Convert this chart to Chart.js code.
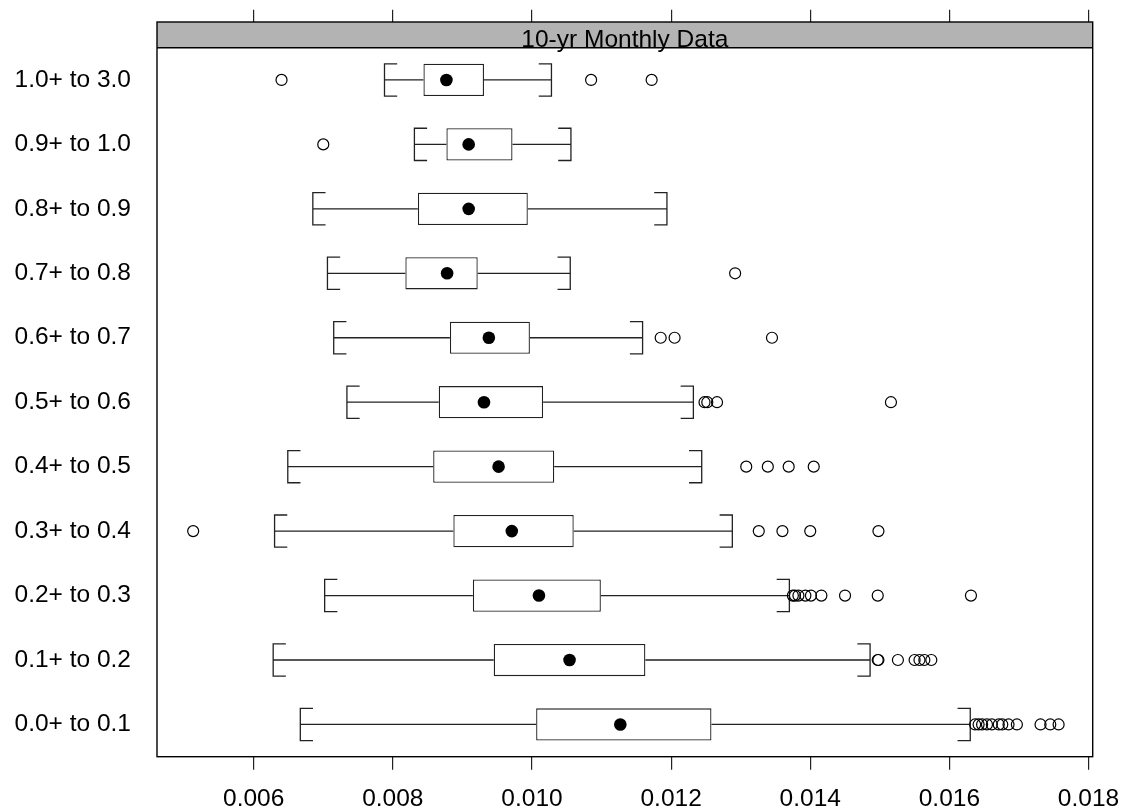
<!DOCTYPE html>
<html>
<head>
<meta charset="utf-8">
<script src="https://cdn.jsdelivr.net/npm/chart.js@4"></script>
<style>
  body { margin: 0; background: #fff; }
  #wrap { width: 1122px; height: 810px; }
</style>
</head>
<body>
<div id="wrap"><canvas id="bwChart"></canvas></div>
<script>
// categories, top row first
const categories = ['1.0+ to 3.0', '0.9+ to 1.0', '0.8+ to 0.9', '0.7+ to 0.8', '0.6+ to 0.7',
    '0.5+ to 0.6', '0.4+ to 0.5', '0.3+ to 0.4', '0.2+ to 0.3', '0.1+ to 0.2', '0.0+ to 0.1'];

const whiskerLow  = [0.00788, 0.00831, 0.00685, 0.00706, 0.00715, 0.00734, 0.00649, 0.00630, 0.00702, 0.00628, 0.00667];
const q1          = [0.00844, 0.00877, 0.00836, 0.00818, 0.00882, 0.00866, 0.00858, 0.00887, 0.00915, 0.00945, 0.01006];
const median      = [0.00877, 0.00909, 0.00909, 0.00878, 0.00938, 0.00931, 0.00952, 0.00971, 0.01010, 0.01054, 0.01127];
const q3          = [0.00931, 0.00972, 0.00994, 0.00922, 0.00997, 0.01016, 0.01032, 0.01060, 0.01099, 0.01163, 0.01258];
const whiskerHigh = [0.01028, 0.01056, 0.01194, 0.01055, 0.01159, 0.01232, 0.01244, 0.01288, 0.01370, 0.01486, 0.01630];

const outliers = [
    [0.00640, 0.01085, 0.01172],
    [0.00700],
    [],
    [0.01292],
    [0.01185, 0.01205, 0.01345],
    [0.01248, 0.01252, 0.01266, 0.01516],
    [0.01308, 0.01339, 0.01369, 0.01405],
    [0.00513, 0.01326, 0.01360, 0.01400, 0.01498],
    [0.01375, 0.01378, 0.01383, 0.01393, 0.01401, 0.01416, 0.01450, 0.01497, 0.01631],
    [0.01497, 0.01498, 0.01526, 0.01550, 0.01557, 0.01564, 0.01574],
    [0.01637, 0.01642, 0.01647, 0.01654, 0.01661, 0.01671, 0.01676, 0.01685, 0.01697, 0.01731, 0.01745, 0.01757]
];

const xTicks = [0.006, 0.008, 0.010, 0.012, 0.014, 0.016, 0.018];
const xMin = 0.00461;
const xMax = 0.01806;
const stripTitle = '10-yr Monthly Data';

const fontFamily = '"Liberation Sans", Arial, Helvetica, sans-serif';
const ink = '#222';

const outlierPoints = [];
outliers.forEach((row, i) => row.forEach(v => outlierPoints.push({x: v, y: categories[i]})));

const setTicks = scale => { scale.ticks = xTicks.map(v => ({value: v})); };

// whiskers with bracket caps, strip and panel frame
const lattice = {
    id: 'lattice',
    beforeDatasetsDraw(chart) {
        const {ctx, scales: {x, y}} = chart;
        const band = Math.abs(y.getPixelForValue(1) - y.getPixelForValue(0));
        const half = band * 0.25;
        const cap = 12.7;
        ctx.save();
        ctx.strokeStyle = ink;
        ctx.lineWidth = 1.3;
        categories.forEach((c, i) => {
            const yc = y.getPixelForValue(i);
            const lo = x.getPixelForValue(whiskerLow[i]);
            const hi = x.getPixelForValue(whiskerHigh[i]);
            const b1 = x.getPixelForValue(q1[i]);
            const b3 = x.getPixelForValue(q3[i]);
            ctx.beginPath();
            ctx.moveTo(lo, yc); ctx.lineTo(b1, yc);
            ctx.moveTo(b3, yc); ctx.lineTo(hi, yc);
            ctx.moveTo(lo + cap, yc - half); ctx.lineTo(lo, yc - half);
            ctx.lineTo(lo, yc + half); ctx.lineTo(lo + cap, yc + half);
            ctx.moveTo(hi - cap, yc - half); ctx.lineTo(hi, yc - half);
            ctx.lineTo(hi, yc + half); ctx.lineTo(hi - cap, yc + half);
            ctx.stroke();
        });
        ctx.restore();
    },
    afterDraw(chart) {
        const {ctx, chartArea: a} = chart;
        const stripTop = a.top - 25.7;
        ctx.save();
        ctx.fillStyle = '#b3b3b3';
        ctx.fillRect(a.left, stripTop, a.right - a.left, a.top - stripTop);
        ctx.fillStyle = '#000';
        ctx.font = '24.5px ' + fontFamily;
        ctx.textAlign = 'center';
        ctx.textBaseline = 'alphabetic';
        ctx.fillText(stripTitle, (a.left + a.right) / 2, a.top - 0.5);
        ctx.strokeStyle = '#000';
        ctx.lineWidth = 1.4;
        ctx.strokeRect(a.left, stripTop, a.right - a.left, a.bottom - stripTop);
        ctx.beginPath();
        ctx.moveTo(a.left, a.top);
        ctx.lineTo(a.right, a.top);
        ctx.stroke();
        ctx.restore();
    }
};

const noSidePad = scale => { scale.paddingLeft = 0; scale.paddingRight = 0; };

new Chart(document.getElementById('bwChart'), {
    type: 'bar',
    data: {
        labels: categories,
        datasets: [{
            label: 'box',
            data: q1.map((v, i) => [v, q3[i]]),
            backgroundColor: '#fff',
            borderColor: ink,
            borderWidth: 1.3,
            borderSkipped: false,
            categoryPercentage: 1,
            barPercentage: 0.5,
            order: 3
        }, {
            type: 'scatter',
            label: 'median',
            data: median.map((v, i) => ({x: v, y: categories[i]})),
            pointRadius: 6.3,
            pointBackgroundColor: '#000',
            pointBorderColor: '#000',
            pointBorderWidth: 0,
            order: 1
        }, {
            type: 'scatter',
            label: 'outliers',
            data: outlierPoints,
            pointRadius: 5.5,
            pointBackgroundColor: 'rgba(0,0,0,0)',
            pointBorderColor: '#000',
            pointBorderWidth: 1.2,
            order: 2
        }]
    },
    options: {
        indexAxis: 'y',
        responsive: true,
        maintainAspectRatio: false,
        animation: false,
        layout: {
            padding: {top: 9.7, left: 13, right: 29.3, bottom: 0}
        },
        scales: {
            x: {
                type: 'linear',
                position: 'bottom',
                min: xMin,
                max: xMax,
                afterBuildTicks: setTicks,
                afterFit: scale => { scale.height = 53.3; noSidePad(scale); },
                grid: {
                    drawOnChartArea: false,
                    drawTicks: true,
                    tickLength: 13,
                    color: ink,
                    lineWidth: 1.2
                },
                border: {display: false},
                ticks: {
                    color: '#000',
                    padding: 17,
                    maxRotation: 0,
                    font: {family: fontFamily, size: 24.5, lineHeight: 1},
                    callback: v => v.toFixed(3)
                }
            },
            x2: {
                type: 'linear',
                position: 'top',
                min: xMin,
                max: xMax,
                afterBuildTicks: setTicks,
                afterFit: scale => { scale.height = 38; noSidePad(scale); },
                grid: {
                    drawOnChartArea: false,
                    drawTicks: true,
                    tickLength: 38,
                    color: ink,
                    lineWidth: 1.2
                },
                border: {display: false},
                ticks: {display: false}
            },
            y: {
                type: 'category',
                offset: true,
                afterFit: scale => { scale.width = 144; },
                grid: {display: false, drawTicks: false},
                border: {display: false},
                ticks: {
                    color: '#000',
                    padding: 26,
                    font: {family: fontFamily, size: 24.5}
                }
            }
        },
        plugins: {
            legend: {display: false},
            tooltip: {enabled: false}
        }
    },
    plugins: [lattice]
});
</script>
</body>
</html>
